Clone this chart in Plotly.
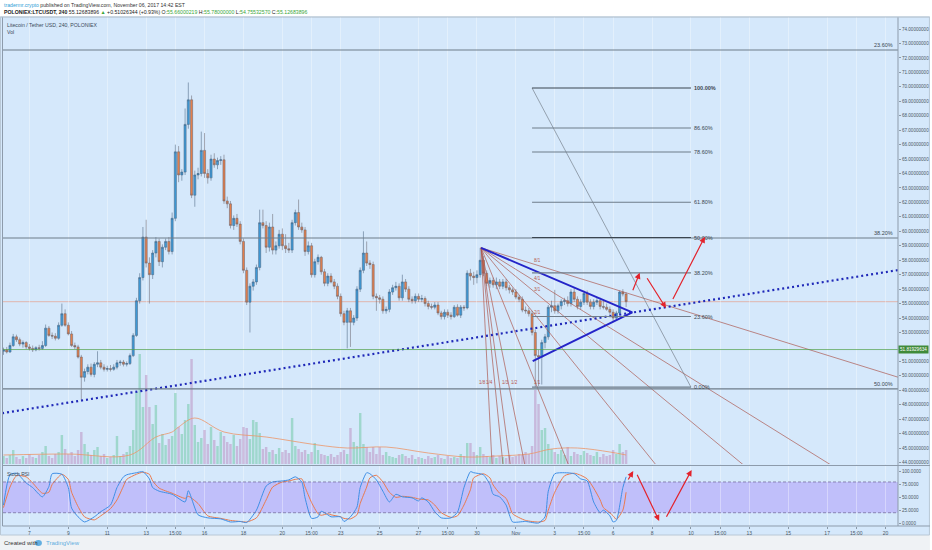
import plotly.graph_objects as go
from datetime import datetime, timedelta

# ---------------- time base (4h candles) ----------------
T0 = datetime(2017, 10, 5, 16, 0)
BAR_HOURS = 4


def at(idx):
    return T0 + timedelta(hours=BAR_HOURS * idx)


# ---------------- candle data (LTC/USDT 4h) ----------------
opens = [51.70, 51.80, 51.65, 52.10, 52.70, 52.50, 52.20, 52.30, 52.00, 51.90,
         51.80, 51.95, 51.90, 52.10, 53.30, 52.80, 52.75, 52.60, 53.50, 54.30,
         53.50, 52.90, 52.10, 52.00, 51.30, 49.90, 50.30, 50.60, 50.10, 50.80,
         50.90, 50.60, 50.45, 50.50, 50.45, 50.60, 50.90, 50.95, 50.80, 50.85,
         51.40, 52.80, 55.20, 56.80, 59.60, 57.80, 57.00, 58.50, 59.30, 57.90,
         58.90, 59.30, 58.60, 60.90, 65.50, 63.90, 64.10, 67.40, 69.10, 62.50,
         63.90, 64.00, 65.60, 64.00, 63.70, 65.00, 64.60, 64.90, 64.95, 62.10,
         61.90, 60.40, 60.90, 60.50, 59.30, 57.30, 55.10, 56.20, 56.50, 57.50,
         60.60, 60.40, 58.90, 60.30, 58.70, 59.00, 59.80, 59.00, 58.80, 58.70,
         60.60, 61.30, 60.30, 60.10, 58.60, 59.00, 57.00, 57.90, 58.20, 57.20,
         56.40, 56.90, 56.50, 56.20, 55.50, 54.30, 53.70, 54.50, 53.70, 54.00,
         56.00, 57.30, 58.50, 57.80, 57.70, 55.50, 55.40, 55.30, 54.50, 54.60,
         55.80, 56.10, 56.20, 55.40, 56.50, 56.00, 55.30, 55.20, 55.50, 55.30,
         55.35, 55.00, 54.80, 54.75, 54.90, 54.35, 54.10, 54.40, 54.20, 54.10,
         54.75, 54.20, 54.75, 54.70, 57.10, 56.90, 56.80, 57.00, 58.00, 57.10,
         56.40, 56.60, 56.30, 56.50, 56.20, 56.50, 56.10, 55.95, 55.80, 55.45,
         55.30, 54.55, 54.50, 54.30, 53.00, 51.40, 51.30, 52.30, 52.70, 54.75,
         54.85, 54.50, 54.85, 55.15, 55.20, 55.00, 55.80, 55.30, 54.80, 55.10,
         55.70, 55.10, 54.80, 55.10, 55.20, 54.80, 54.75, 54.60, 54.40, 54.00,
         54.35, 55.80, 55.66]

highs = [51.95, 52.00, 52.30, 52.90, 52.85, 52.65, 52.45, 52.40, 52.20, 52.10,
         52.05, 52.15, 52.40, 53.55, 53.45, 53.00, 52.95, 53.70, 55.00, 54.60,
         53.70, 53.10, 52.30, 52.15, 51.45, 50.50, 50.80, 50.85, 50.95, 51.70,
         51.10, 50.80, 50.70, 50.75, 50.80, 51.10, 51.10, 51.10, 51.00, 51.55,
         52.95, 55.40, 57.10, 60.30, 60.80, 58.20, 58.70, 59.60, 59.50, 59.10,
         59.50, 59.60, 61.30, 66.00, 65.90, 64.30, 68.50, 70.30, 69.40, 64.20,
         64.40, 66.90, 66.80, 64.30, 65.30, 65.40, 65.10, 65.20, 65.30, 62.40,
         62.10, 61.10, 61.20, 60.70, 59.50, 57.50, 56.40, 56.70, 57.70, 61.50,
         61.50, 60.70, 60.60, 61.20, 59.30, 60.10, 60.20, 59.80, 59.20, 60.80,
         61.50, 62.20, 60.60, 60.30, 59.30, 59.20, 58.10, 58.40, 58.30, 57.40,
         57.10, 57.10, 56.70, 56.40, 55.70, 54.50, 54.70, 54.70, 54.20, 56.20,
         57.50, 60.00, 59.30, 58.00, 57.90, 55.70, 55.60, 55.50, 54.80, 56.00,
         56.30, 56.50, 56.40, 57.00, 56.70, 56.20, 55.50, 55.70, 55.70, 55.60,
         55.50, 55.20, 55.00, 55.10, 55.10, 54.50, 54.60, 54.60, 54.40, 54.90,
         54.95, 54.90, 54.90, 57.30, 57.40, 57.20, 57.30, 58.85, 58.30, 57.30,
         56.80, 56.80, 56.80, 56.70, 56.70, 56.70, 56.30, 56.10, 56.00, 55.60,
         55.50, 54.80, 54.70, 54.50, 53.20, 51.80, 52.50, 52.90, 54.90, 55.20,
         55.95, 55.00, 55.30, 55.40, 55.50, 56.00, 56.10, 55.50, 55.30, 55.90,
         55.90, 55.30, 55.30, 55.40, 55.40, 55.20, 55.00, 54.80, 54.60, 54.50,
         55.90, 56.00, 55.78]

lows = [51.45, 51.55, 51.60, 52.00, 52.35, 52.05, 51.95, 51.85, 51.75, 51.65,
        51.70, 51.75, 51.80, 52.00, 52.70, 52.55, 52.45, 52.50, 53.40, 53.40,
        52.80, 52.00, 51.85, 51.20, 48.30, 49.60, 50.10, 49.95, 49.90, 50.60,
        50.45, 50.30, 50.30, 50.30, 50.35, 50.45, 50.70, 50.65, 50.65, 50.75,
        51.30, 52.70, 55.00, 56.60, 57.50, 55.00, 56.70, 58.20, 57.60, 57.50,
        58.70, 58.40, 58.40, 60.70, 63.40, 63.50, 63.90, 67.10, 62.30, 61.70,
        63.60, 63.80, 63.70, 63.30, 63.50, 64.40, 64.30, 64.60, 61.90, 61.60,
        60.20, 60.10, 60.30, 59.10, 57.10, 54.90, 53.00, 55.90, 56.30, 57.30,
        60.20, 58.50, 58.60, 58.40, 58.40, 58.80, 58.70, 58.50, 58.50, 58.50,
        60.40, 60.10, 59.90, 58.30, 58.40, 56.80, 56.80, 57.70, 57.00, 56.20,
        56.20, 56.40, 56.00, 55.30, 54.10, 53.50, 51.90, 52.00, 53.50, 53.80,
        55.80, 57.10, 57.60, 57.40, 55.30, 54.50, 55.00, 54.30, 54.30, 54.40,
        55.60, 55.90, 55.20, 55.20, 55.80, 55.10, 55.00, 55.00, 55.10, 55.10,
        54.80, 54.60, 54.60, 54.60, 54.20, 53.90, 53.90, 54.00, 53.90, 54.00,
        54.10, 54.00, 54.50, 54.60, 56.60, 56.30, 56.40, 56.80, 56.90, 56.20,
        56.10, 56.10, 56.00, 56.00, 56.00, 55.90, 55.70, 55.60, 55.30, 55.10,
        54.40, 54.30, 54.10, 52.80, 49.22, 49.30, 49.40, 51.90, 52.50, 54.40,
        54.30, 54.30, 54.60, 54.90, 54.80, 54.80, 55.10, 54.60, 54.60, 54.90,
        54.90, 54.60, 54.60, 54.90, 54.60, 54.60, 54.50, 54.20, 53.70, 53.80,
        54.20, 55.50, 54.76]

closes = [51.80, 51.65, 52.10, 52.70, 52.50, 52.20, 52.30, 52.00, 51.90, 51.80,
          51.95, 51.90, 52.10, 53.30, 52.80, 52.75, 52.60, 53.50, 54.30, 53.50,
          52.90, 52.10, 52.00, 51.30, 49.90, 50.30, 50.60, 50.10, 50.80, 50.90,
          50.60, 50.45, 50.50, 50.45, 50.60, 50.90, 50.95, 50.80, 50.85, 51.40,
          52.80, 55.20, 56.80, 59.60, 57.80, 57.00, 58.50, 59.30, 57.90, 58.90,
          59.30, 58.60, 60.90, 65.50, 63.90, 64.10, 67.40, 69.10, 62.50, 63.90,
          64.00, 65.60, 64.00, 63.70, 65.00, 64.60, 64.90, 64.95, 62.10, 61.90,
          60.40, 60.90, 60.50, 59.30, 57.30, 55.10, 56.20, 56.50, 57.50, 60.60,
          60.40, 58.90, 60.30, 58.70, 59.00, 59.80, 59.00, 58.80, 58.70, 60.60,
          61.30, 60.30, 60.10, 58.60, 59.00, 57.00, 57.90, 58.20, 57.20, 56.40,
          56.90, 56.50, 56.20, 55.50, 54.30, 53.70, 54.50, 53.70, 54.00, 56.00,
          57.30, 58.50, 57.80, 57.70, 55.50, 55.40, 55.30, 54.50, 54.60, 55.80,
          56.10, 56.20, 55.40, 56.50, 56.00, 55.30, 55.20, 55.50, 55.30, 55.35,
          55.00, 54.80, 54.75, 54.90, 54.35, 54.10, 54.40, 54.20, 54.10, 54.75,
          54.20, 54.75, 54.70, 57.10, 56.90, 56.80, 57.00, 58.00, 57.10, 56.40,
          56.60, 56.30, 56.50, 56.20, 56.50, 56.10, 55.95, 55.80, 55.45, 55.30,
          54.55, 54.50, 54.30, 53.00, 51.40, 51.30, 52.30, 52.70, 54.75, 54.85,
          54.50, 54.85, 55.15, 55.20, 55.00, 55.80, 55.30, 54.80, 55.10, 55.70,
          55.10, 54.80, 55.10, 55.20, 54.80, 54.75, 54.60, 54.40, 54.00, 54.35,
          55.80, 55.66, 55.13]

volumes = [8, 6, 9, 14, 7, 5, 8, 6, 10, 7,
           6, 9, 12, 18, 8, 6, 10, 12, 29, 15,
           10, 12, 8, 14, 32, 20, 12, 9, 14, 17,
           8, 10, 6, 7, 9, 28, 8, 10, 12, 18,
           34, 72, 110, 57, 89, 57, 40, 59, 21, 30,
           19, 25, 28, 71, 37, 30, 44, 60, 105, 39,
           22, 26, 34, 20, 37, 24, 18, 32, 28, 22,
           20, 29, 18, 25, 37, 36, 25, 44, 42, 31,
           15, 17, 12, 14, 10, 16, 12, 14, 11, 46,
           18, 15, 12, 14, 10, 12, 21, 14, 10, 9,
           8, 10, 7, 9, 12, 14, 10, 36, 22, 18,
           51, 20, 17, 12, 17, 10, 17, 9, 12, 8,
           7, 6, 9, 10, 8, 6, 9, 5, 7, 6,
           5, 8, 6, 7, 9, 6, 5, 8, 6, 7,
           6, 10, 8, 21, 21, 12, 9, 17, 10, 8,
           7, 9, 6, 8, 7, 6, 9, 7, 8, 10,
           9, 12, 10, 18, 74, 60, 34, 36, 20, 15,
           12, 10, 14, 9, 17, 8, 12, 10, 9, 13,
           11, 9, 8, 12, 7, 10, 8, 9, 14, 10,
           20, 12, 14]

vol_ma_idx = [0, 20, 39, 47, 52, 54, 59, 68, 81, 97, 106, 118, 131, 143, 152, 162, 169, 177, 187, 192]
vol_ma = [9, 10, 9, 27, 32, 37, 46, 32, 27, 19, 16, 17, 11, 7, 8, 10, 15, 16, 12, 9]

# ---------------- Stoch RSI (sampled at candle indices) ----------------
stoch_idx = [0, 2, 4, 7, 9, 12, 14, 15, 18, 20, 21, 23, 25, 28, 30, 33, 35, 37, 38, 41,
             43, 45, 46, 48, 52, 56, 57, 60, 63, 67, 70, 73, 75, 78, 81, 83, 86, 88, 90, 92,
             93, 95, 97, 98, 100, 101, 104, 105, 107, 109, 110, 112, 113, 115, 117, 119, 121, 123, 126, 128,
             129, 131, 133, 135, 138, 140, 142, 144, 145, 148, 150, 151, 153, 155, 156, 157, 161, 165, 167, 168,
             170, 173, 176, 178, 180, 182, 184, 185, 187, 188, 189, 191, 192]
stoch_k = [35, 94, 97, 78, 69, 51, 71, 96, 95, 69, 29, 12, 2, 12, 22, 35, 69, 90, 94, 98,
           100, 86, 69, 62, 56, 41, 63, 16, 10, 8, 2, 3, 1, 25, 72, 80, 82, 84, 90, 80,
           49, 9, 12, 23, 16, 12, 12, 3, 12, 31, 69, 98, 96, 84, 62, 41, 56, 51, 49, 43,
           49, 41, 22, 10, 10, 21, 69, 100, 98, 94, 75, 56, 51, 35, 16, 2, 3, 0, 12, 62,
           96, 98, 96, 86, 82, 41, 20, 25, 14, 2, 5, 69, 90]
stoch_d = [30, 70, 92, 90, 78, 58, 60, 75, 95, 85, 60, 32, 12, 6, 14, 28, 45, 72, 85, 95,
           99, 95, 82, 68, 58, 48, 52, 38, 14, 9, 5, 3, 2, 10, 45, 70, 80, 82, 85, 86,
           70, 40, 18, 15, 18, 16, 12, 9, 8, 16, 38, 70, 88, 93, 80, 60, 50, 52, 50, 47,
           46, 45, 35, 20, 11, 14, 35, 65, 88, 96, 88, 74, 58, 48, 34, 18, 5, 2, 5, 25,
           60, 92, 97, 93, 86, 68, 45, 30, 20, 14, 7, 25, 60]

# ---------------- axis ticks ----------------
tick_times = ["2017-10-07", "2017-10-09", "2017-10-11", "2017-10-13", "2017-10-14 12:00",
              "2017-10-16", "2017-10-18", "2017-10-20", "2017-10-21 12:00", "2017-10-23",
              "2017-10-25", "2017-10-27", "2017-10-28 12:00", "2017-10-30", "2017-11-01",
              "2017-11-03", "2017-11-04 12:00", "2017-11-06", "2017-11-08", "2017-11-10",
              "2017-11-11 12:00", "2017-11-13", "2017-11-15", "2017-11-17", "2017-11-18 12:00",
              "2017-11-20"]
tick_text = ["7", "9", "11", "13", "15:00", "16", "18", "20", "15:00", "23", "25", "27", "15:00",
             "30", "Nov", "3", "15:00", "6", "8", "10", "15:00", "13", "15", "17", "15:00", "20"]
price_ticks = [44, 45, 46, 47, 48, 49, 50, 51, 52, 53, 54, 55, 56, 57, 58, 59,
               60, 61, 62, 63, 64, 65, 66, 67, 68, 69, 70, 71, 72, 73, 74]
rsi_ticks = [0, 25, 50, 75, 100]

# ---------------- drawings ----------------
hline_prices = [72.55, 59.54, 49.10]
hline_labels = ["23.60%", "38.20%", "50.00%"]
last_price = 55.13
support_price = 51.82
support_label = "51.81929634"

fib_start_idx, fib_end_idx = 163, 212
fib_low, fib_high = 49.22, 69.92
fib_ratios = [0.0, 0.236, 0.382, 0.5, 0.618, 0.786, 0.866, 1.0]
fib_labels = ["0.00%", "23.60%", "38.20%", "50.00%", "61.80%", "78.60%", "86.60%", "100.00%"]

gann_apex_idx, gann_apex_price = 147.3, 58.86
gann_b_idx, gann_b_price = 164.6, 49.22
gann_ratios = [(8, 1), (4, 1), (3, 1), (2, 1), (1, 1), (1, 2), (1, 3), (1, 4), (1, 8)]
gann_label_anchor = ["center", "center", "center", "center", "center", "left", "left", "right", "right"]

tri_idx = [147.3, 193.9, 163.2]
tri_price = [58.86, 54.39, 51.02]

trend_idx = [0, 276]
trend_price = [47.43, 57.32]

arrow_tail_idx = [193.9, 198.2, 206.2]
arrow_tail_price = [55.82, 56.86, 55.21]
arrow_head_idx = [196.2, 204.3, 216.3]
arrow_head_price = [57.13, 54.69, 59.63]

rsi_arrow_tail_idx = [192.4, 195.2, 204.2]
rsi_arrow_tail_val = [81.9, 96.9, 9.2]
rsi_arrow_head_idx = [194.2, 202.2, 212.2]
rsi_arrow_head_val = [101.4, 3.9, 103.3]

# ---------------- geometry helpers (layout placement) ----------------
W, H = 932, 550
ML, MR, MT, MB = 3, 32, 17, 24
PW, PH = W - ML - MR, H - MT - MB


def pxx(x):
    return (x - ML) / PW


def pxy(y):
    return (H - MB - y) / PH


FONT = "Liberation Sans"
BG = "#d5e8fb"
times = [at(i) for i in range(len(closes))]

fig = go.Figure()

# volume
vol_colors = ["rgba(106,198,160,0.5)" if c >= o else "rgba(186,138,190,0.5)"
              for o, c in zip(opens, closes)]
fig.add_trace(go.Bar(x=times, y=volumes, marker=dict(color=vol_colors, line=dict(width=0)),
                     width=BAR_HOURS * 3600 * 1000 * 0.75, xaxis="x", yaxis="y", hoverinfo="skip"))
fig.add_trace(go.Scatter(x=[at(i) for i in vol_ma_idx], y=vol_ma, mode="lines",
                         line=dict(color="rgba(236,150,105,0.8)", width=1, shape="spline"),
                         xaxis="x", yaxis="y", hoverinfo="skip"))

# Gann fan
dt = gann_b_idx - gann_apex_idx
dp = gann_b_price - gann_apex_price
gann_color = "rgba(170,85,75,0.85)"
for a, b in gann_ratios:
    slope = dp / dt * b / a
    span = 320
    fig.add_trace(go.Scatter(x=[at(gann_apex_idx), at(gann_apex_idx + span)],
                             y=[gann_apex_price, gann_apex_price + slope * span],
                             mode="lines", line=dict(color=gann_color, width=0.8),
                             xaxis="x", yaxis="y2", hoverinfo="skip"))

# fib trend line (diagonal)
fig.add_trace(go.Scatter(x=[at(fib_start_idx), at(fib_end_idx)], y=[fib_high, fib_low],
                         mode="lines", line=dict(color="rgba(110,120,130,0.8)", width=0.8),
                         xaxis="x", yaxis="y2", hoverinfo="skip"))

# candles
fig.add_trace(go.Candlestick(
    x=times, open=opens, high=highs, low=lows, close=closes, xaxis="x", yaxis="y2",
    increasing=dict(fillcolor="#3d9ad8", line=dict(color="#4b6580", width=0.55)),
    decreasing=dict(fillcolor="#e47f4c", line=dict(color="#6a6670", width=0.55)),
    whiskerwidth=0, hoverinfo="skip"))

# blue dotted trend line (extended across the chart)
tslope = (trend_price[1] - trend_price[0]) / (trend_idx[1] - trend_idx[0])
ext = [-5, 285]
fig.add_trace(go.Scatter(x=[at(e) for e in ext],
                         y=[trend_price[0] + tslope * (e - trend_idx[0]) for e in ext],
                         mode="lines", line=dict(color="#1f28b8", width=2.2, dash="2px,3px"),
                         xaxis="x", yaxis="y2", hoverinfo="skip"))

# triangle
fig.add_trace(go.Scatter(x=[at(i) for i in tri_idx], y=tri_price, mode="lines",
                         line=dict(color="#2424c8", width=2), xaxis="x", yaxis="y2",
                         hoverinfo="skip"))

# Stoch RSI
fig.add_trace(go.Scatter(x=[at(i) for i in stoch_idx], y=stoch_d, mode="lines",
                         line=dict(color="#ea7a4e", width=1, shape="spline", smoothing=0.6),
                         xaxis="x", yaxis="y3", hoverinfo="skip"))
fig.add_trace(go.Scatter(x=[at(i) for i in stoch_idx], y=stoch_k, mode="lines",
                         line=dict(color="#3f8fe6", width=1, shape="spline", smoothing=0.6),
                         xaxis="x", yaxis="y3", hoverinfo="skip"))

shapes = []
# widget background and footer
shapes.append(dict(type="rect", xref="paper", yref="paper", x0=pxx(0), x1=pxx(W), y0=pxy(535),
                   y1=pxy(MT), fillcolor=BG, line=dict(width=0), layer="below"))
shapes.append(dict(type="rect", xref="paper", yref="paper", x0=pxx(0), x1=pxx(W), y0=pxy(H),
                   y1=pxy(535), fillcolor="#eff2f5", line=dict(width=0), layer="below"))
shapes.append(dict(type="rect", xref="paper", yref="paper", x0=pxx(0.5), x1=pxx(W - 0.5),
                   y0=pxy(535), y1=pxy(MT), line=dict(color="#b9c8d6", width=1), layer="below"))
# RSI band and dashed levels
shapes.append(dict(type="rect", xref="paper", yref="y3", x0=0, x1=1, y0=20, y1=80,
                   fillcolor="rgba(150,105,250,0.32)", line=dict(width=0), layer="below"))
for lv in (20, 80):
    shapes.append(dict(type="line", xref="paper", yref="y3", x0=0, x1=1, y0=lv, y1=lv,
                       line=dict(color="rgba(110,100,150,0.9)", width=0.8, dash="3px,2px")))
# full width horizontal lines
for p in hline_prices:
    shapes.append(dict(type="line", xref="paper", yref="y2", x0=0, x1=1, y0=p, y1=p,
                       line=dict(color="#6e7c8a", width=1.1)))
shapes.append(dict(type="line", xref="paper", yref="y2", x0=0, x1=1, y0=last_price, y1=last_price,
                   line=dict(color="rgba(235,140,110,0.55)", width=1), layer="below"))
shapes.append(dict(type="line", xref="paper", yref="y2", x0=0, x1=1, y0=support_price,
                   y1=support_price, line=dict(color="rgba(80,160,70,0.7)", width=1)))
# fib retracement levels
for r in fib_ratios:
    lvl = fib_low + r * (fib_high - fib_low)
    col = "#3a4550" if r in (0.5, 1.0) else "#6e7c8a"
    shapes.append(dict(type="line", xref="x", yref="y2", x0=at(fib_start_idx), x1=at(fib_end_idx),
                       y0=lvl, y1=lvl, line=dict(color=col, width=1.1)))
# pane frame lines
frame = "#8d9bab"
shapes.append(dict(type="line", xref="paper", yref="paper", x0=pxx(900), x1=pxx(900),
                   y0=pxy(526), y1=pxy(MT), line=dict(color=frame, width=1)))
shapes.append(dict(type="line", xref="paper", yref="paper", x0=pxx(2.5), x1=pxx(2.5),
                   y0=pxy(526), y1=pxy(MT), line=dict(color=frame, width=1)))
shapes.append(dict(type="line", xref="paper", yref="paper", x0=pxx(2.5), x1=pxx(W),
                   y0=pxy(465.5), y1=pxy(465.5), line=dict(color=frame, width=1.2)))
shapes.append(dict(type="line", xref="paper", yref="paper", x0=pxx(2.5), x1=pxx(W),
                   y0=pxy(526), y1=pxy(526), line=dict(color=frame, width=1)))
shapes.append(dict(type="line", xref="paper", yref="paper", x0=pxx(0), x1=pxx(W),
                   y0=pxy(MT), y1=pxy(MT), line=dict(color="#b9c8d6", width=1)))
# footer logo
shapes.append(dict(type="circle", xref="paper", yref="paper", x0=pxx(35), x1=pxx(42),
                   y0=pxy(546), y1=pxy(540), fillcolor="#62aee0", line=dict(width=0)))

ann = []
small = dict(family=FONT, size=5, color="#4b5866")
# header
ann.append(dict(xref="paper", yref="paper", x=pxx(2), y=pxy(5), xanchor="left", yanchor="middle",
                showarrow=False, font=dict(family=FONT, size=5.2, color="#333"),
                text="<span style='color:#2e9ed6'>tradermr.crypto</span> published on TradingView.com, November 06, 2017 14:42 EST"))
g = "#3aa63a"
ann.append(dict(xref="paper", yref="paper", x=pxx(2), y=pxy(12.5), xanchor="left", yanchor="middle",
                showarrow=False, font=dict(family=FONT, size=5.2, color="#222"),
                text=("<b>POLONIEX:LTCUSDT, 240</b> 55.12683896 <span style='color:%s'>▲</span> +0.51026344 (+0.93%%) "
                      "O:<span style='color:%s'>55.66000219</span> H:<span style='color:%s'>55.78000000</span> "
                      "L:<span style='color:%s'>54.75532570</span> C:<span style='color:%s'>55.12683896</span>") % (g, g, g, g, g)))
ann.append(dict(xref="paper", yref="paper", x=pxx(5), y=pxy(25), xanchor="left", yanchor="middle",
                showarrow=False, font=dict(family=FONT, size=5.2, color="#3c4b5a"),
                text="Litecoin / Tether USD, 240, POLONIEX"))
ann.append(dict(xref="paper", yref="paper", x=pxx(5), y=pxy(32.5), xanchor="left", yanchor="middle",
                showarrow=False, font=dict(family=FONT, size=5.2, color="#3c4b5a"), text="Vol"))
ann.append(dict(xref="paper", yref="paper", x=pxx(5), y=pxy(474), xanchor="left", yanchor="middle",
                showarrow=False, font=dict(family=FONT, size=5, color="#3c4b5a"), text="Stoch RSI"))
# footer
ann.append(dict(xref="paper", yref="paper", x=pxx(2), y=pxy(543), xanchor="left", yanchor="middle",
                showarrow=False, font=dict(family=FONT, size=6, color="#333"), text="Created with"))
ann.append(dict(xref="paper", yref="paper", x=pxx(44), y=pxy(543), xanchor="left", yanchor="middle",
                showarrow=False, font=dict(family=FONT, size=6, color="#62aee0"), text="TradingView"))
# full width line labels
for p, lab in zip(hline_prices, hline_labels):
    ann.append(dict(xref="paper", yref="y2", x=pxx(897), y=p, xanchor="right", yanchor="bottom",
                    showarrow=False, font=dict(family=FONT, size=5.5, color="#3c4650"), text=lab))
# fib labels
for r, lab in zip(fib_ratios, fib_labels):
    lvl = fib_low + r * (fib_high - fib_low)
    txt = "<b>%s</b>" % lab if r == 1.0 else lab
    ann.append(dict(xref="x", yref="y2", x=at(fib_end_idx), y=lvl, xanchor="left", yanchor="middle",
                    xshift=1, showarrow=False, font=dict(family=FONT, size=5.5, color="#3c4650"), text=txt))
# support price label on axis (it sits over the 52 tick label, as in the source)
ann.append(dict(xref="paper", yref="y2", x=1.0, y=support_price, xanchor="left", yanchor="middle",
                showarrow=False, bgcolor="#3f8a3a", borderpad=1,
                font=dict(family=FONT, size=4.6, color="white"), text=support_label))
# Gann labels
for (a, b), anc in zip(gann_ratios, gann_label_anchor):
    if a >= b:
        lx, ly = gann_b_idx, gann_apex_price + dp * b / a
    else:
        lx, ly = gann_apex_idx + dt * a / b, gann_b_price
    ann.append(dict(xref="x", yref="y2", x=at(lx), y=ly, xanchor=anc, yanchor="bottom",
                    showarrow=False, font=dict(family=FONT, size=4.6, color="#b5584f"),
                    text="%d/%d" % (a, b)))
# red arrows
for ti, tp, hi, hp in zip(arrow_tail_idx, arrow_tail_price, arrow_head_idx, arrow_head_price):
    ann.append(dict(xref="x", yref="y2", axref="x", ayref="y2", x=at(hi), y=hp, ax=at(ti), ay=tp,
                    text="", showarrow=True, arrowhead=2, arrowsize=1, arrowwidth=1.2,
                    arrowcolor="#e3232c"))
for ti, tv, hi, hv in zip(rsi_arrow_tail_idx, rsi_arrow_tail_val, rsi_arrow_head_idx, rsi_arrow_head_val):
    ann.append(dict(xref="x", yref="y3", axref="x", ayref="y3", x=at(hi), y=hv, ax=at(ti), ay=tv,
                    text="", showarrow=True, arrowhead=2, arrowsize=1, arrowwidth=1.2,
                    arrowcolor="#e3232c"))

# price tick labels; the 52 label is hidden under the support-price tag in the source
price_ticktext = ["" if v == 52 else "%.8f" % v for v in price_ticks]

fig.update_layout(
    width=W, height=H,
    margin=dict(l=ML, r=MR, t=MT, b=MB, pad=0),
    paper_bgcolor="white", plot_bgcolor=BG, showlegend=False,
    boxgap=0.08,
    xaxis=dict(type="date", range=[at(-0.15), at(275.85)], domain=[0, 1], anchor="y3",
               tickvals=tick_times, ticktext=tick_text, tickfont=small, ticks="outside",
               ticklen=2, tickcolor="#8a99a8", showgrid=True, gridcolor="rgba(255,255,255,0.35)",
               zeroline=False, showline=False, rangeslider=dict(visible=False), fixedrange=True),
    yaxis=dict(domain=[pxy(464), 1], range=[0, 447], visible=False, fixedrange=True),
    yaxis2=dict(overlaying="y", side="right", anchor="x", range=[43.90, 74.83],
                tickvals=price_ticks, ticktext=price_ticktext,
                tickfont=dict(family=FONT, size=4.6, color="#4b5866"), ticks="outside", ticklen=2,
                tickcolor="#8a99a8", showgrid=False, zeroline=False, fixedrange=True),
    yaxis3=dict(domain=[0, pxy(466)], anchor="x", side="right", range=[-5.85, 111.1],
                tickvals=rsi_ticks, ticktext=["%.4f" % v for v in rsi_ticks],
                tickfont=dict(family=FONT, size=4.6, color="#4b5866"), ticks="outside", ticklen=2,
                tickcolor="#8a99a8", showgrid=False, zeroline=False, fixedrange=True),
    shapes=shapes, annotations=ann,
)

fig.write_html("out.html", config={"displayModeBar": False},
               post_script="document.body.style.margin='0px';document.body.style.overflow='hidden';")
